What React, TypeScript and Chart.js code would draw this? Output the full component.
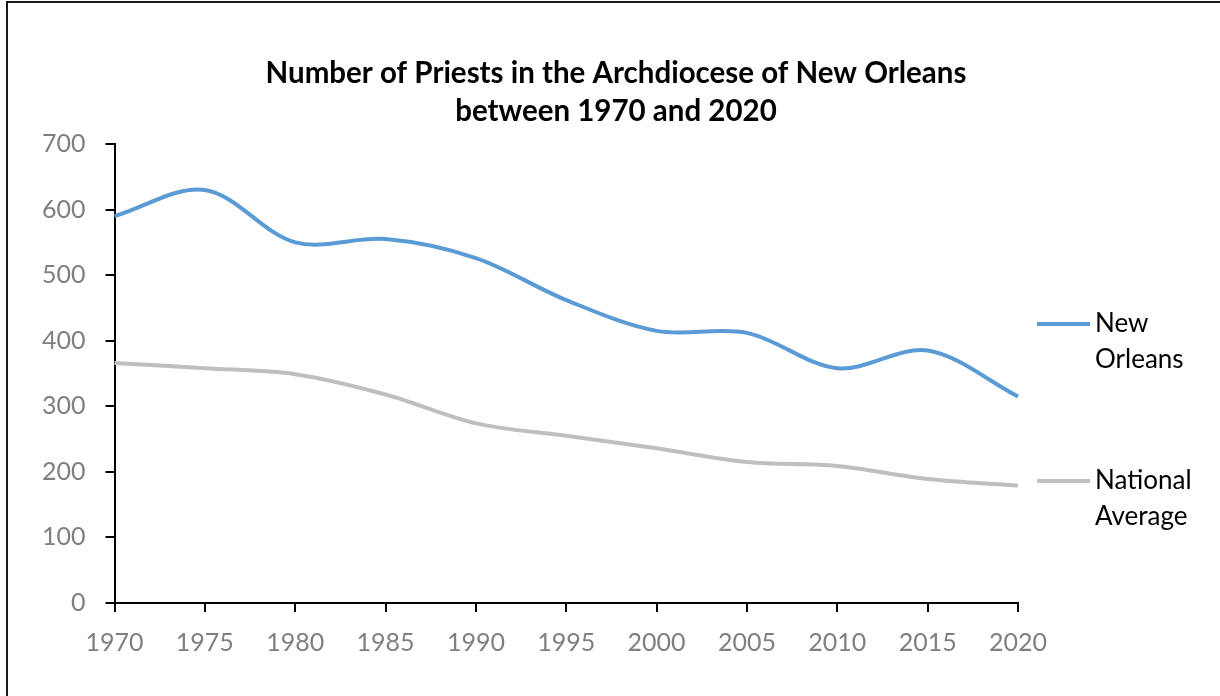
import React, { useEffect, useRef } from "react";
import { Chart, registerables } from "chart.js";

Chart.register(...registerables);

const years = ["1970", "1975", "1980", "1985", "1990", "1995", "2000", "2005", "2010", "2015", "2020"];
const newOrleans = [590, 630, 550, 555, 526, 462, 415, 412, 358, 385, 315];
const nationalAverage = [366, 358, 349, 318, 274, 255, 236, 215, 209, 189, 179];
const seriesNames = [["New", "Orleans"], ["National", "Average"]];
const titleLines = ["Number of Priests in the Archdiocese of New Orleans", "between 1970 and 2020"];

const FONT = "Lato, 'Noto Sans', sans-serif";

const sideLegend = {
  id: "sideLegend",
  afterDraw(chart: any) {
    const ctx = chart.ctx;
    const itemY = [324, 481];
    ctx.save();
    chart.data.datasets.forEach((ds: any, i: number) => {
      const y = itemY[i];
      ctx.strokeStyle = ds.borderColor;
      ctx.lineWidth = 4;
      ctx.lineCap = "butt";
      ctx.beginPath();
      ctx.moveTo(1037, y);
      ctx.lineTo(1090, y);
      ctx.stroke();
      ctx.fillStyle = "#000";
      ctx.font = `26px ${FONT}`;
      ctx.textBaseline = "middle";
      ctx.textAlign = "left";
      const lines: string[] = ds.legendLines;
      lines.forEach((t, j) => ctx.fillText(t, 1095, y + j * 36));
    });
    ctx.restore();
  },
};

const topTitle = {
  id: "topTitle",
  afterDraw(chart: any) {
    const ctx = chart.ctx;
    ctx.save();
    ctx.fillStyle = "#000";
    ctx.font = `bold 29.5px ${FONT}`;
    ctx.textAlign = "center";
    ctx.textBaseline = "alphabetic";
    const baselines = [83, 121];
    titleLines.forEach((t, i) => ctx.fillText(t, 616, baselines[i]));
    ctx.restore();
  },
};

export default function App() {
  const ref = useRef<HTMLCanvasElement | null>(null);
  useEffect(() => {
    if (!ref.current) return;
    const chart = new Chart(ref.current, {
      type: "line",
      data: {
        labels: years,
        datasets: [
          {
            label: seriesNames[0].join(" "),
            legendLines: seriesNames[0],
            data: newOrleans,
            borderColor: "#5B9BD5",
            backgroundColor: "#5B9BD5",
            borderWidth: 4,
            pointRadius: 0,
            tension: 0.33,
          } as any,
          {
            label: seriesNames[1].join(" "),
            legendLines: seriesNames[1],
            data: nationalAverage,
            borderColor: "#BFBFBF",
            backgroundColor: "#BFBFBF",
            borderWidth: 4,
            pointRadius: 0,
            tension: 0.33,
          } as any,
        ],
      },
      options: {
        animation: false,
        responsive: false,
        maintainAspectRatio: false,
        layout: { padding: { left: 22, right: 202, top: 144, bottom: 22 } },
        plugins: {
          legend: { display: false },
          tooltip: { enabled: false },
          title: { display: false },
        },
        scales: {
          x: {
            grid: { drawOnChartArea: false, drawTicks: true, tickLength: 9, color: "#000", lineWidth: 2 },
            border: { display: true, color: "#000", width: 2 },
            ticks: { color: "#7F7F7F", font: { family: FONT, size: 25 }, padding: 16, maxRotation: 0, autoSkip: false },
          },
          y: {
            min: 0,
            max: 700,
            grid: { drawOnChartArea: false, drawTicks: true, tickLength: 9, color: "#000", lineWidth: 2 },
            border: { display: true, color: "#000", width: 2 },
            ticks: { stepSize: 100, color: "#7F7F7F", font: { family: FONT, size: 25 }, padding: 20 },
          },
        },
      },
      plugins: [sideLegend, topTitle],
    });
    return () => chart.destroy();
  }, []);

  return (
    <div style={{ position: "fixed", left: 0, top: 0, width: 1220, height: 696, background: "#fff", overflow: "hidden" }}>
      <canvas ref={ref} width={1220} height={696} style={{ display: "block", width: 1220, height: 696 }} />
      <div
        style={{
          position: "absolute",
          left: 6,
          top: 1,
          width: 1240,
          height: 720,
          border: "2px solid #1a1a1a",
          pointerEvents: "none",
        }}
      />
    </div>
  );
}
